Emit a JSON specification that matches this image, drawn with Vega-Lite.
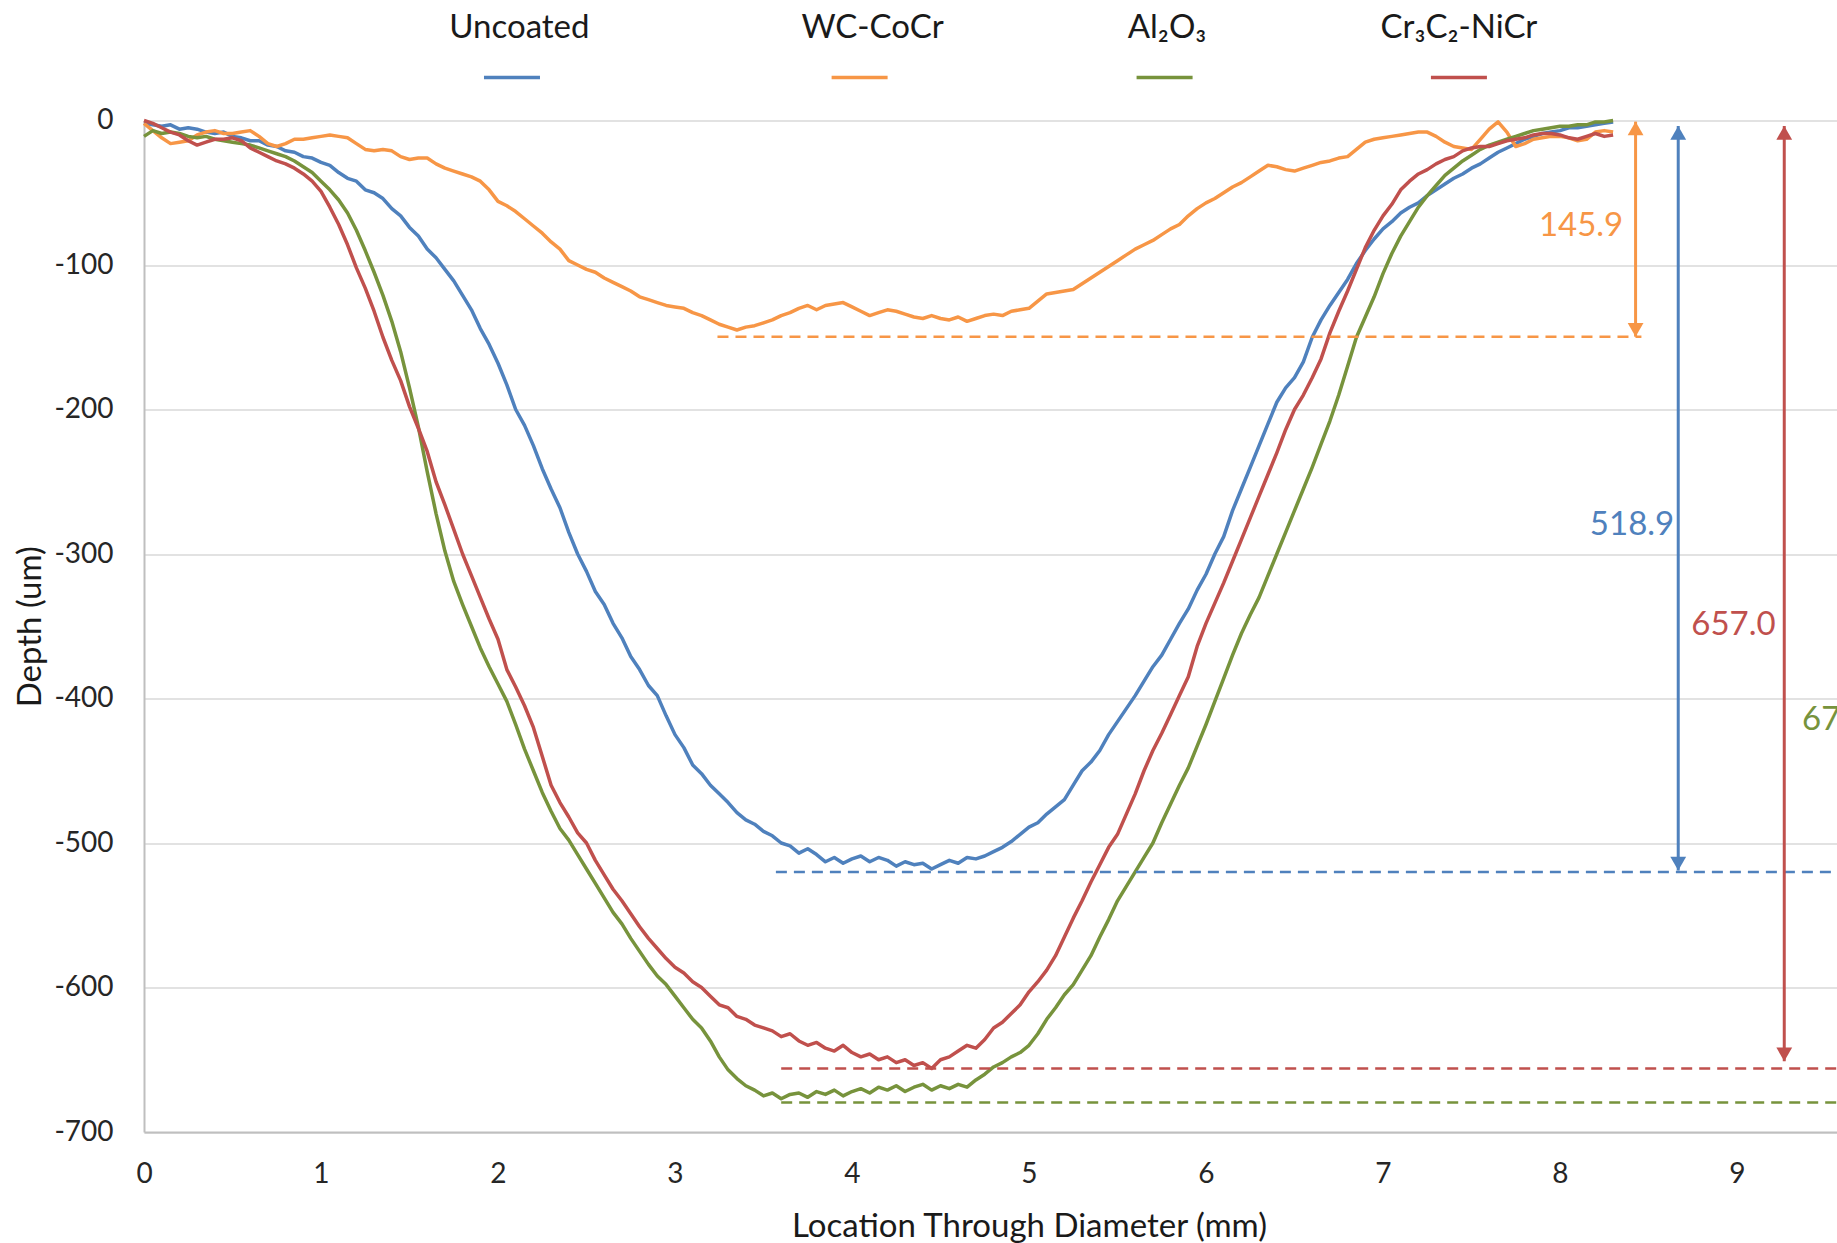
{
  "$schema": "https://vega.github.io/schema/vega-lite/v6.json",
  "width": 1693,
  "height": 1011.5,
  "autosize": {"type": "none"},
  "padding": {"left": 144, "top": 120.5, "right": 0, "bottom": 111},
  "background": "#ffffff",
  "config": {"view": {"stroke": null}, "font": "Lato", "text": {"font": "Lato"}},
  "datasets": {
    "profiles": [
      {"x":0.00,"Uncoated":-2,"WC-CoCr":-2,"Al₂O₃":-11,"Cr₃C₂-NiCr":0},
      {"x":0.05,"Uncoated":-3,"WC-CoCr":-7,"Al₂O₃":-7,"Cr₃C₂-NiCr":-2},
      {"x":0.10,"Uncoated":-4,"WC-CoCr":-12,"Al₂O₃":-9,"Cr₃C₂-NiCr":-5},
      {"x":0.15,"Uncoated":-3,"WC-CoCr":-16,"Al₂O₃":-8,"Cr₃C₂-NiCr":-8},
      {"x":0.20,"Uncoated":-6,"WC-CoCr":-15,"Al₂O₃":-9,"Cr₃C₂-NiCr":-10},
      {"x":0.25,"Uncoated":-5,"WC-CoCr":-14,"Al₂O₃":-11,"Cr₃C₂-NiCr":-14},
      {"x":0.30,"Uncoated":-6,"WC-CoCr":-10,"Al₂O₃":-12,"Cr₃C₂-NiCr":-17},
      {"x":0.35,"Uncoated":-8,"WC-CoCr":-8,"Al₂O₃":-11,"Cr₃C₂-NiCr":-15},
      {"x":0.40,"Uncoated":-9,"WC-CoCr":-7,"Al₂O₃":-13,"Cr₃C₂-NiCr":-13},
      {"x":0.45,"Uncoated":-8,"WC-CoCr":-9,"Al₂O₃":-14,"Cr₃C₂-NiCr":-13},
      {"x":0.50,"Uncoated":-11,"WC-CoCr":-9,"Al₂O₃":-15,"Cr₃C₂-NiCr":-12},
      {"x":0.55,"Uncoated":-12,"WC-CoCr":-8,"Al₂O₃":-16,"Cr₃C₂-NiCr":-14},
      {"x":0.60,"Uncoated":-14,"WC-CoCr":-7,"Al₂O₃":-17,"Cr₃C₂-NiCr":-19},
      {"x":0.65,"Uncoated":-14,"WC-CoCr":-11,"Al₂O₃":-19,"Cr₃C₂-NiCr":-22},
      {"x":0.70,"Uncoated":-17,"WC-CoCr":-16,"Al₂O₃":-21,"Cr₃C₂-NiCr":-25},
      {"x":0.75,"Uncoated":-18,"WC-CoCr":-18,"Al₂O₃":-23,"Cr₃C₂-NiCr":-28},
      {"x":0.80,"Uncoated":-21,"WC-CoCr":-16,"Al₂O₃":-25,"Cr₃C₂-NiCr":-30},
      {"x":0.85,"Uncoated":-22,"WC-CoCr":-13,"Al₂O₃":-28,"Cr₃C₂-NiCr":-33},
      {"x":0.90,"Uncoated":-25,"WC-CoCr":-13,"Al₂O₃":-32,"Cr₃C₂-NiCr":-37},
      {"x":0.95,"Uncoated":-26,"WC-CoCr":-12,"Al₂O₃":-36,"Cr₃C₂-NiCr":-42},
      {"x":1.00,"Uncoated":-29,"WC-CoCr":-11,"Al₂O₃":-42,"Cr₃C₂-NiCr":-49},
      {"x":1.05,"Uncoated":-31,"WC-CoCr":-10,"Al₂O₃":-48,"Cr₃C₂-NiCr":-60},
      {"x":1.10,"Uncoated":-36,"WC-CoCr":-11,"Al₂O₃":-55,"Cr₃C₂-NiCr":-72},
      {"x":1.15,"Uncoated":-40,"WC-CoCr":-12,"Al₂O₃":-64,"Cr₃C₂-NiCr":-86},
      {"x":1.20,"Uncoated":-42,"WC-CoCr":-16,"Al₂O₃":-76,"Cr₃C₂-NiCr":-102},
      {"x":1.25,"Uncoated":-48,"WC-CoCr":-20,"Al₂O₃":-90,"Cr₃C₂-NiCr":-116},
      {"x":1.30,"Uncoated":-50,"WC-CoCr":-21,"Al₂O₃":-105,"Cr₃C₂-NiCr":-132},
      {"x":1.35,"Uncoated":-54,"WC-CoCr":-20,"Al₂O₃":-121,"Cr₃C₂-NiCr":-150},
      {"x":1.40,"Uncoated":-61,"WC-CoCr":-21,"Al₂O₃":-139,"Cr₃C₂-NiCr":-166},
      {"x":1.45,"Uncoated":-66,"WC-CoCr":-25,"Al₂O₃":-160,"Cr₃C₂-NiCr":-180},
      {"x":1.50,"Uncoated":-74,"WC-CoCr":-27,"Al₂O₃":-185,"Cr₃C₂-NiCr":-198},
      {"x":1.55,"Uncoated":-80,"WC-CoCr":-26,"Al₂O₃":-212,"Cr₃C₂-NiCr":-213},
      {"x":1.60,"Uncoated":-89,"WC-CoCr":-26,"Al₂O₃":-243,"Cr₃C₂-NiCr":-229},
      {"x":1.65,"Uncoated":-95,"WC-CoCr":-30,"Al₂O₃":-272,"Cr₃C₂-NiCr":-250},
      {"x":1.70,"Uncoated":-103,"WC-CoCr":-33,"Al₂O₃":-298,"Cr₃C₂-NiCr":-266},
      {"x":1.75,"Uncoated":-111,"WC-CoCr":-35,"Al₂O₃":-319,"Cr₃C₂-NiCr":-283},
      {"x":1.80,"Uncoated":-121,"WC-CoCr":-37,"Al₂O₃":-335,"Cr₃C₂-NiCr":-300},
      {"x":1.85,"Uncoated":-131,"WC-CoCr":-39,"Al₂O₃":-350,"Cr₃C₂-NiCr":-315},
      {"x":1.90,"Uncoated":-144,"WC-CoCr":-42,"Al₂O₃":-365,"Cr₃C₂-NiCr":-330},
      {"x":1.95,"Uncoated":-155,"WC-CoCr":-48,"Al₂O₃":-378,"Cr₃C₂-NiCr":-345},
      {"x":2.00,"Uncoated":-168,"WC-CoCr":-56,"Al₂O₃":-390,"Cr₃C₂-NiCr":-359},
      {"x":2.05,"Uncoated":-183,"WC-CoCr":-59,"Al₂O₃":-402,"Cr₃C₂-NiCr":-380},
      {"x":2.10,"Uncoated":-200,"WC-CoCr":-63,"Al₂O₃":-418,"Cr₃C₂-NiCr":-392},
      {"x":2.15,"Uncoated":-211,"WC-CoCr":-68,"Al₂O₃":-435,"Cr₃C₂-NiCr":-405},
      {"x":2.20,"Uncoated":-225,"WC-CoCr":-73,"Al₂O₃":-450,"Cr₃C₂-NiCr":-420},
      {"x":2.25,"Uncoated":-241,"WC-CoCr":-78,"Al₂O₃":-465,"Cr₃C₂-NiCr":-440},
      {"x":2.30,"Uncoated":-255,"WC-CoCr":-84,"Al₂O₃":-478,"Cr₃C₂-NiCr":-460},
      {"x":2.35,"Uncoated":-268,"WC-CoCr":-89,"Al₂O₃":-490,"Cr₃C₂-NiCr":-472},
      {"x":2.40,"Uncoated":-285,"WC-CoCr":-97,"Al₂O₃":-498,"Cr₃C₂-NiCr":-482},
      {"x":2.45,"Uncoated":-300,"WC-CoCr":-100,"Al₂O₃":-508,"Cr₃C₂-NiCr":-493},
      {"x":2.50,"Uncoated":-312,"WC-CoCr":-103,"Al₂O₃":-518,"Cr₃C₂-NiCr":-500},
      {"x":2.55,"Uncoated":-326,"WC-CoCr":-105,"Al₂O₃":-528,"Cr₃C₂-NiCr":-512},
      {"x":2.60,"Uncoated":-335,"WC-CoCr":-109,"Al₂O₃":-538,"Cr₃C₂-NiCr":-522},
      {"x":2.65,"Uncoated":-348,"WC-CoCr":-112,"Al₂O₃":-548,"Cr₃C₂-NiCr":-532},
      {"x":2.70,"Uncoated":-358,"WC-CoCr":-115,"Al₂O₃":-556,"Cr₃C₂-NiCr":-540},
      {"x":2.75,"Uncoated":-371,"WC-CoCr":-118,"Al₂O₃":-566,"Cr₃C₂-NiCr":-549},
      {"x":2.80,"Uncoated":-380,"WC-CoCr":-122,"Al₂O₃":-575,"Cr₃C₂-NiCr":-558},
      {"x":2.85,"Uncoated":-391,"WC-CoCr":-124,"Al₂O₃":-584,"Cr₃C₂-NiCr":-566},
      {"x":2.90,"Uncoated":-398,"WC-CoCr":-126,"Al₂O₃":-592,"Cr₃C₂-NiCr":-573},
      {"x":2.95,"Uncoated":-412,"WC-CoCr":-128,"Al₂O₃":-598,"Cr₃C₂-NiCr":-580},
      {"x":3.00,"Uncoated":-425,"WC-CoCr":-129,"Al₂O₃":-606,"Cr₃C₂-NiCr":-586},
      {"x":3.05,"Uncoated":-434,"WC-CoCr":-130,"Al₂O₃":-614,"Cr₃C₂-NiCr":-590},
      {"x":3.10,"Uncoated":-446,"WC-CoCr":-133,"Al₂O₃":-622,"Cr₃C₂-NiCr":-596},
      {"x":3.15,"Uncoated":-452,"WC-CoCr":-135,"Al₂O₃":-628,"Cr₃C₂-NiCr":-600},
      {"x":3.20,"Uncoated":-460,"WC-CoCr":-138,"Al₂O₃":-637,"Cr₃C₂-NiCr":-606},
      {"x":3.25,"Uncoated":-466,"WC-CoCr":-141,"Al₂O₃":-648,"Cr₃C₂-NiCr":-612},
      {"x":3.30,"Uncoated":-472,"WC-CoCr":-143,"Al₂O₃":-657,"Cr₃C₂-NiCr":-614},
      {"x":3.35,"Uncoated":-479,"WC-CoCr":-145,"Al₂O₃":-663,"Cr₃C₂-NiCr":-620},
      {"x":3.40,"Uncoated":-484,"WC-CoCr":-143,"Al₂O₃":-668,"Cr₃C₂-NiCr":-622},
      {"x":3.45,"Uncoated":-487,"WC-CoCr":-142,"Al₂O₃":-671,"Cr₃C₂-NiCr":-626},
      {"x":3.50,"Uncoated":-492,"WC-CoCr":-140,"Al₂O₃":-675,"Cr₃C₂-NiCr":-628},
      {"x":3.55,"Uncoated":-495,"WC-CoCr":-138,"Al₂O₃":-673,"Cr₃C₂-NiCr":-630},
      {"x":3.60,"Uncoated":-500,"WC-CoCr":-135,"Al₂O₃":-677,"Cr₃C₂-NiCr":-634},
      {"x":3.65,"Uncoated":-502,"WC-CoCr":-133,"Al₂O₃":-674,"Cr₃C₂-NiCr":-632},
      {"x":3.70,"Uncoated":-507,"WC-CoCr":-130,"Al₂O₃":-673,"Cr₃C₂-NiCr":-637},
      {"x":3.75,"Uncoated":-504,"WC-CoCr":-128,"Al₂O₃":-676,"Cr₃C₂-NiCr":-640},
      {"x":3.80,"Uncoated":-508,"WC-CoCr":-131,"Al₂O₃":-672,"Cr₃C₂-NiCr":-638},
      {"x":3.85,"Uncoated":-513,"WC-CoCr":-128,"Al₂O₃":-674,"Cr₃C₂-NiCr":-642},
      {"x":3.90,"Uncoated":-510,"WC-CoCr":-127,"Al₂O₃":-671,"Cr₃C₂-NiCr":-644},
      {"x":3.95,"Uncoated":-514,"WC-CoCr":-126,"Al₂O₃":-675,"Cr₃C₂-NiCr":-640},
      {"x":4.00,"Uncoated":-511,"WC-CoCr":-129,"Al₂O₃":-672,"Cr₃C₂-NiCr":-645},
      {"x":4.05,"Uncoated":-509,"WC-CoCr":-132,"Al₂O₃":-670,"Cr₃C₂-NiCr":-648},
      {"x":4.10,"Uncoated":-513,"WC-CoCr":-135,"Al₂O₃":-673,"Cr₃C₂-NiCr":-646},
      {"x":4.15,"Uncoated":-510,"WC-CoCr":-133,"Al₂O₃":-669,"Cr₃C₂-NiCr":-650},
      {"x":4.20,"Uncoated":-512,"WC-CoCr":-131,"Al₂O₃":-671,"Cr₃C₂-NiCr":-648},
      {"x":4.25,"Uncoated":-516,"WC-CoCr":-132,"Al₂O₃":-668,"Cr₃C₂-NiCr":-652},
      {"x":4.30,"Uncoated":-513,"WC-CoCr":-134,"Al₂O₃":-672,"Cr₃C₂-NiCr":-650},
      {"x":4.35,"Uncoated":-515,"WC-CoCr":-136,"Al₂O₃":-669,"Cr₃C₂-NiCr":-654},
      {"x":4.40,"Uncoated":-514,"WC-CoCr":-137,"Al₂O₃":-667,"Cr₃C₂-NiCr":-652},
      {"x":4.45,"Uncoated":-518,"WC-CoCr":-135,"Al₂O₃":-671,"Cr₃C₂-NiCr":-656},
      {"x":4.50,"Uncoated":-515,"WC-CoCr":-137,"Al₂O₃":-668,"Cr₃C₂-NiCr":-650},
      {"x":4.55,"Uncoated":-512,"WC-CoCr":-138,"Al₂O₃":-670,"Cr₃C₂-NiCr":-648},
      {"x":4.60,"Uncoated":-514,"WC-CoCr":-136,"Al₂O₃":-667,"Cr₃C₂-NiCr":-644},
      {"x":4.65,"Uncoated":-510,"WC-CoCr":-139,"Al₂O₃":-669,"Cr₃C₂-NiCr":-640},
      {"x":4.70,"Uncoated":-511,"WC-CoCr":-137,"Al₂O₃":-664,"Cr₃C₂-NiCr":-642},
      {"x":4.75,"Uncoated":-509,"WC-CoCr":-135,"Al₂O₃":-660,"Cr₃C₂-NiCr":-636},
      {"x":4.80,"Uncoated":-506,"WC-CoCr":-134,"Al₂O₃":-655,"Cr₃C₂-NiCr":-628},
      {"x":4.85,"Uncoated":-503,"WC-CoCr":-135,"Al₂O₃":-652,"Cr₃C₂-NiCr":-624},
      {"x":4.90,"Uncoated":-499,"WC-CoCr":-132,"Al₂O₃":-648,"Cr₃C₂-NiCr":-618},
      {"x":4.95,"Uncoated":-494,"WC-CoCr":-131,"Al₂O₃":-645,"Cr₃C₂-NiCr":-612},
      {"x":5.00,"Uncoated":-489,"WC-CoCr":-130,"Al₂O₃":-640,"Cr₃C₂-NiCr":-603},
      {"x":5.05,"Uncoated":-486,"WC-CoCr":-125,"Al₂O₃":-632,"Cr₃C₂-NiCr":-596},
      {"x":5.10,"Uncoated":-480,"WC-CoCr":-120,"Al₂O₃":-622,"Cr₃C₂-NiCr":-588},
      {"x":5.15,"Uncoated":-475,"WC-CoCr":-119,"Al₂O₃":-614,"Cr₃C₂-NiCr":-578},
      {"x":5.20,"Uncoated":-470,"WC-CoCr":-118,"Al₂O₃":-605,"Cr₃C₂-NiCr":-565},
      {"x":5.25,"Uncoated":-460,"WC-CoCr":-117,"Al₂O₃":-598,"Cr₃C₂-NiCr":-552},
      {"x":5.30,"Uncoated":-450,"WC-CoCr":-113,"Al₂O₃":-588,"Cr₃C₂-NiCr":-540},
      {"x":5.35,"Uncoated":-444,"WC-CoCr":-109,"Al₂O₃":-578,"Cr₃C₂-NiCr":-527},
      {"x":5.40,"Uncoated":-436,"WC-CoCr":-105,"Al₂O₃":-565,"Cr₃C₂-NiCr":-515},
      {"x":5.45,"Uncoated":-425,"WC-CoCr":-101,"Al₂O₃":-553,"Cr₃C₂-NiCr":-503},
      {"x":5.50,"Uncoated":-416,"WC-CoCr":-97,"Al₂O₃":-540,"Cr₃C₂-NiCr":-494},
      {"x":5.55,"Uncoated":-407,"WC-CoCr":-93,"Al₂O₃":-530,"Cr₃C₂-NiCr":-480},
      {"x":5.60,"Uncoated":-398,"WC-CoCr":-89,"Al₂O₃":-520,"Cr₃C₂-NiCr":-466},
      {"x":5.65,"Uncoated":-388,"WC-CoCr":-86,"Al₂O₃":-510,"Cr₃C₂-NiCr":-450},
      {"x":5.70,"Uncoated":-378,"WC-CoCr":-83,"Al₂O₃":-500,"Cr₃C₂-NiCr":-436},
      {"x":5.75,"Uncoated":-370,"WC-CoCr":-79,"Al₂O₃":-486,"Cr₃C₂-NiCr":-424},
      {"x":5.80,"Uncoated":-359,"WC-CoCr":-75,"Al₂O₃":-473,"Cr₃C₂-NiCr":-411},
      {"x":5.85,"Uncoated":-348,"WC-CoCr":-72,"Al₂O₃":-460,"Cr₃C₂-NiCr":-398},
      {"x":5.90,"Uncoated":-338,"WC-CoCr":-66,"Al₂O₃":-448,"Cr₃C₂-NiCr":-385},
      {"x":5.95,"Uncoated":-325,"WC-CoCr":-61,"Al₂O₃":-433,"Cr₃C₂-NiCr":-364},
      {"x":6.00,"Uncoated":-314,"WC-CoCr":-57,"Al₂O₃":-418,"Cr₃C₂-NiCr":-348},
      {"x":6.05,"Uncoated":-300,"WC-CoCr":-54,"Al₂O₃":-402,"Cr₃C₂-NiCr":-334},
      {"x":6.10,"Uncoated":-288,"WC-CoCr":-50,"Al₂O₃":-386,"Cr₃C₂-NiCr":-320},
      {"x":6.15,"Uncoated":-270,"WC-CoCr":-46,"Al₂O₃":-370,"Cr₃C₂-NiCr":-305},
      {"x":6.20,"Uncoated":-255,"WC-CoCr":-43,"Al₂O₃":-355,"Cr₃C₂-NiCr":-290},
      {"x":6.25,"Uncoated":-240,"WC-CoCr":-39,"Al₂O₃":-342,"Cr₃C₂-NiCr":-275},
      {"x":6.30,"Uncoated":-225,"WC-CoCr":-35,"Al₂O₃":-330,"Cr₃C₂-NiCr":-260},
      {"x":6.35,"Uncoated":-210,"WC-CoCr":-31,"Al₂O₃":-315,"Cr₃C₂-NiCr":-245},
      {"x":6.40,"Uncoated":-195,"WC-CoCr":-32,"Al₂O₃":-300,"Cr₃C₂-NiCr":-230},
      {"x":6.45,"Uncoated":-185,"WC-CoCr":-34,"Al₂O₃":-285,"Cr₃C₂-NiCr":-214},
      {"x":6.50,"Uncoated":-178,"WC-CoCr":-35,"Al₂O₃":-270,"Cr₃C₂-NiCr":-200},
      {"x":6.55,"Uncoated":-167,"WC-CoCr":-33,"Al₂O₃":-255,"Cr₃C₂-NiCr":-190},
      {"x":6.60,"Uncoated":-150,"WC-CoCr":-31,"Al₂O₃":-240,"Cr₃C₂-NiCr":-178},
      {"x":6.65,"Uncoated":-138,"WC-CoCr":-29,"Al₂O₃":-224,"Cr₃C₂-NiCr":-165},
      {"x":6.70,"Uncoated":-128,"WC-CoCr":-28,"Al₂O₃":-208,"Cr₃C₂-NiCr":-147},
      {"x":6.75,"Uncoated":-119,"WC-CoCr":-26,"Al₂O₃":-190,"Cr₃C₂-NiCr":-132},
      {"x":6.80,"Uncoated":-110,"WC-CoCr":-25,"Al₂O₃":-170,"Cr₃C₂-NiCr":-118},
      {"x":6.85,"Uncoated":-99,"WC-CoCr":-20,"Al₂O₃":-150,"Cr₃C₂-NiCr":-103},
      {"x":6.90,"Uncoated":-90,"WC-CoCr":-15,"Al₂O₃":-136,"Cr₃C₂-NiCr":-88},
      {"x":6.95,"Uncoated":-82,"WC-CoCr":-13,"Al₂O₃":-122,"Cr₃C₂-NiCr":-76},
      {"x":7.00,"Uncoated":-75,"WC-CoCr":-12,"Al₂O₃":-106,"Cr₃C₂-NiCr":-66},
      {"x":7.05,"Uncoated":-70,"WC-CoCr":-11,"Al₂O₃":-92,"Cr₃C₂-NiCr":-58},
      {"x":7.10,"Uncoated":-64,"WC-CoCr":-10,"Al₂O₃":-80,"Cr₃C₂-NiCr":-48},
      {"x":7.15,"Uncoated":-60,"WC-CoCr":-9,"Al₂O₃":-70,"Cr₃C₂-NiCr":-42},
      {"x":7.20,"Uncoated":-57,"WC-CoCr":-8,"Al₂O₃":-60,"Cr₃C₂-NiCr":-37},
      {"x":7.25,"Uncoated":-52,"WC-CoCr":-8,"Al₂O₃":-52,"Cr₃C₂-NiCr":-34},
      {"x":7.30,"Uncoated":-48,"WC-CoCr":-11,"Al₂O₃":-45,"Cr₃C₂-NiCr":-30},
      {"x":7.35,"Uncoated":-44,"WC-CoCr":-15,"Al₂O₃":-38,"Cr₃C₂-NiCr":-27},
      {"x":7.40,"Uncoated":-40,"WC-CoCr":-18,"Al₂O₃":-33,"Cr₃C₂-NiCr":-25},
      {"x":7.45,"Uncoated":-37,"WC-CoCr":-19,"Al₂O₃":-28,"Cr₃C₂-NiCr":-21},
      {"x":7.50,"Uncoated":-33,"WC-CoCr":-20,"Al₂O₃":-24,"Cr₃C₂-NiCr":-19},
      {"x":7.55,"Uncoated":-30,"WC-CoCr":-13,"Al₂O₃":-20,"Cr₃C₂-NiCr":-18},
      {"x":7.60,"Uncoated":-26,"WC-CoCr":-6,"Al₂O₃":-17,"Cr₃C₂-NiCr":-18},
      {"x":7.65,"Uncoated":-22,"WC-CoCr":-1,"Al₂O₃":-15,"Cr₃C₂-NiCr":-16},
      {"x":7.70,"Uncoated":-19,"WC-CoCr":-8,"Al₂O₃":-13,"Cr₃C₂-NiCr":-14},
      {"x":7.75,"Uncoated":-16,"WC-CoCr":-18,"Al₂O₃":-11,"Cr₃C₂-NiCr":-13},
      {"x":7.80,"Uncoated":-13,"WC-CoCr":-16,"Al₂O₃":-9,"Cr₃C₂-NiCr":-12},
      {"x":7.85,"Uncoated":-11,"WC-CoCr":-13,"Al₂O₃":-7,"Cr₃C₂-NiCr":-10},
      {"x":7.90,"Uncoated":-9,"WC-CoCr":-12,"Al₂O₃":-6,"Cr₃C₂-NiCr":-9},
      {"x":7.95,"Uncoated":-8,"WC-CoCr":-11,"Al₂O₃":-5,"Cr₃C₂-NiCr":-9},
      {"x":8.00,"Uncoated":-7,"WC-CoCr":-11,"Al₂O₃":-4,"Cr₃C₂-NiCr":-10},
      {"x":8.05,"Uncoated":-5,"WC-CoCr":-12,"Al₂O₃":-4,"Cr₃C₂-NiCr":-12},
      {"x":8.10,"Uncoated":-5,"WC-CoCr":-14,"Al₂O₃":-3,"Cr₃C₂-NiCr":-13},
      {"x":8.15,"Uncoated":-4,"WC-CoCr":-13,"Al₂O₃":-3,"Cr₃C₂-NiCr":-11},
      {"x":8.20,"Uncoated":-3,"WC-CoCr":-8,"Al₂O₃":-1,"Cr₃C₂-NiCr":-9},
      {"x":8.25,"Uncoated":-2,"WC-CoCr":-7,"Al₂O₃":-1,"Cr₃C₂-NiCr":-11},
      {"x":8.30,"Uncoated":-1,"WC-CoCr":-8,"Al₂O₃":0,"Cr₃C₂-NiCr":-10}
    ],
    "refs": [
      {"series":"WC-CoCr","x":3.24,"x2":8.46,"depth":-149.6},
      {"series":"Uncoated","x":3.57,"x2":10,"depth":-520},
      {"series":"Cr₃C₂-NiCr","x":3.6,"x2":10,"depth":-656},
      {"series":"Al₂O₃","x":3.6,"x2":10,"depth":-679.6}
    ],
    "arrows": [
      {"series":"WC-CoCr","x":8.427,"top":-0.8,"bottom":-149.6},
      {"series":"Uncoated","x":8.668,"top":-3.8,"bottom":-519},
      {"series":"Cr₃C₂-NiCr","x":9.267,"top":-3.8,"bottom":-651}
    ],
    "notes": [
      {"series":"WC-CoCr","label":"145.9","x":8.119,"depth":-73},
      {"series":"Uncoated","label":"518.9","x":8.407,"depth":-280},
      {"series":"Cr₃C₂-NiCr","label":"657.0","x":8.98,"depth":-349},
      {"series":"Al₂O₃","label":"679.6","x":9.606,"depth":-415}
    ],
    "legend": [
      {"series":"Uncoated","x":2.079,"tx":2.121,"line":29.8,"label":64},
      {"series":"WC-CoCr","x":4.043,"tx":4.116,"line":29.8,"label":64},
      {"series":"Al₂O₃","x":5.766,"tx":5.78,"line":29.8,"label":64},
      {"series":"Cr₃C₂-NiCr","x":7.429,"tx":7.429,"line":29.8,"label":64}
    ]
  },
  "layer": [
    {
      "data": {"name": "profiles"},
      "transform": [{"fold": ["Uncoated", "WC-CoCr", "Al₂O₃", "Cr₃C₂-NiCr"], "as": ["series", "depth"]}],
      "mark": {"type": "line", "strokeWidth": 3.5, "strokeJoin": "round"},
      "encoding": {
        "x": {
          "field": "x", "type": "quantitative",
          "scale": {"domain": [0, 9.565], "nice": false, "zero": false},
          "axis": {
            "values": [0,1,2,3,4,5,6,7,8,9],
            "grid": false, "ticks": false,
            "domainColor": "#bfbfbf", "domainWidth": 2,
            "labelFontSize": 28, "labelColor": "#262626", "labelPadding": 28, "labelFlush": false, "labelFont": "Lato",
            "labelExpr": "datum.value + ''",
            "title": "Location Through Diameter (mm)",
            "titleFont": "Lato", "titleFontSize": 33, "titleFontWeight": "normal", "titleColor": "#1a1a1a",
            "titleX": 885, "titleY": 104, "titleBaseline": "alphabetic", "titleAlign": "center"
          }
        },
        "y": {
          "field": "depth", "type": "quantitative",
          "scale": {"domain": [-700, 0], "nice": false, "zero": false},
          "axis": {
            "values": [-700,-600,-500,-400,-300,-200,-100,0],
            "grid": true, "gridColor": "#d9d9d9", "gridWidth": 1.5,
            "ticks": false,
            "domainColor": "#bfbfbf", "domainWidth": 2,
            "labelFontSize": 28, "labelColor": "#262626", "labelPadding": 31, "labelFlush": false, "labelFont": "Lato",
            "labelExpr": "datum.value + ''",
            "title": "Depth (um)",
            "titleFont": "Lato", "titleFontSize": 33, "titleFontWeight": "normal", "titleColor": "#1a1a1a",
            "titleX": -104, "titleY": 505.75, "titleAngle": -90, "titleAlign": "center", "titleBaseline": "alphabetic"
          }
        },
        "color": {
          "field": "series", "type": "nominal",
          "scale": {"domain": ["Uncoated", "WC-CoCr", "Al₂O₃", "Cr₃C₂-NiCr"], "range": ["#4f81bd", "#f79646", "#77933c", "#c0504d"]},
          "legend": null
        }
      }
    },
    {
      "data": {"name": "refs"},
      "mark": {"type": "rule", "strokeDash": [11, 7], "strokeWidth": 2.5, "clip": true},
      "encoding": {
        "x": {"field": "x", "type": "quantitative"},
        "x2": {"field": "x2"},
        "y": {"field": "depth", "type": "quantitative"},
        "color": {"field": "series", "type": "nominal", "legend": null}
      }
    },
    {
      "data": {"name": "arrows"},
      "mark": {"type": "rule", "strokeWidth": 3},
      "encoding": {
        "x": {"field": "x", "type": "quantitative"},
        "y": {"field": "top", "type": "quantitative"},
        "y2": {"field": "bottom"},
        "color": {"field": "series", "type": "nominal", "legend": null}
      }
    },
    {
      "data": {"name": "arrows"},
      "mark": {"type": "point", "shape": "triangle-up", "filled": true, "size": 250, "opacity": 1, "yOffset": 6.8},
      "encoding": {
        "x": {"field": "x", "type": "quantitative"},
        "y": {"field": "top", "type": "quantitative"},
        "color": {"field": "series", "type": "nominal", "legend": null}
      }
    },
    {
      "data": {"name": "arrows"},
      "mark": {"type": "point", "shape": "triangle-down", "filled": true, "size": 250, "opacity": 1, "yOffset": -6.8},
      "encoding": {
        "x": {"field": "x", "type": "quantitative"},
        "y": {"field": "bottom", "type": "quantitative"},
        "color": {"field": "series", "type": "nominal", "legend": null}
      }
    },
    {
      "data": {"name": "notes"},
      "mark": {"type": "text", "fontSize": 33, "font": "Lato", "align": "center", "baseline": "middle"},
      "encoding": {
        "x": {"field": "x", "type": "quantitative"},
        "y": {"field": "depth", "type": "quantitative"},
        "text": {"field": "label"},
        "color": {"field": "series", "type": "nominal", "legend": null}
      }
    },
    {
      "data": {"name": "legend"},
      "mark": {"type": "point", "shape": "stroke", "filled": false, "size": 3136, "strokeWidth": 3.5, "opacity": 1},
      "encoding": {
        "x": {"field": "x", "type": "quantitative"},
        "y": {"field": "line", "type": "quantitative"},
        "color": {"field": "series", "type": "nominal", "legend": null}
      }
    },
    {
      "data": {"name": "legend"},
      "mark": {"type": "text", "fontSize": 33, "font": "Lato", "align": "center", "baseline": "middle", "color": "#1a1a1a"},
      "encoding": {
        "x": {"field": "tx", "type": "quantitative"},
        "y": {"field": "label", "type": "quantitative"},
        "text": {"field": "series"}
      }
    }
  ]
}
